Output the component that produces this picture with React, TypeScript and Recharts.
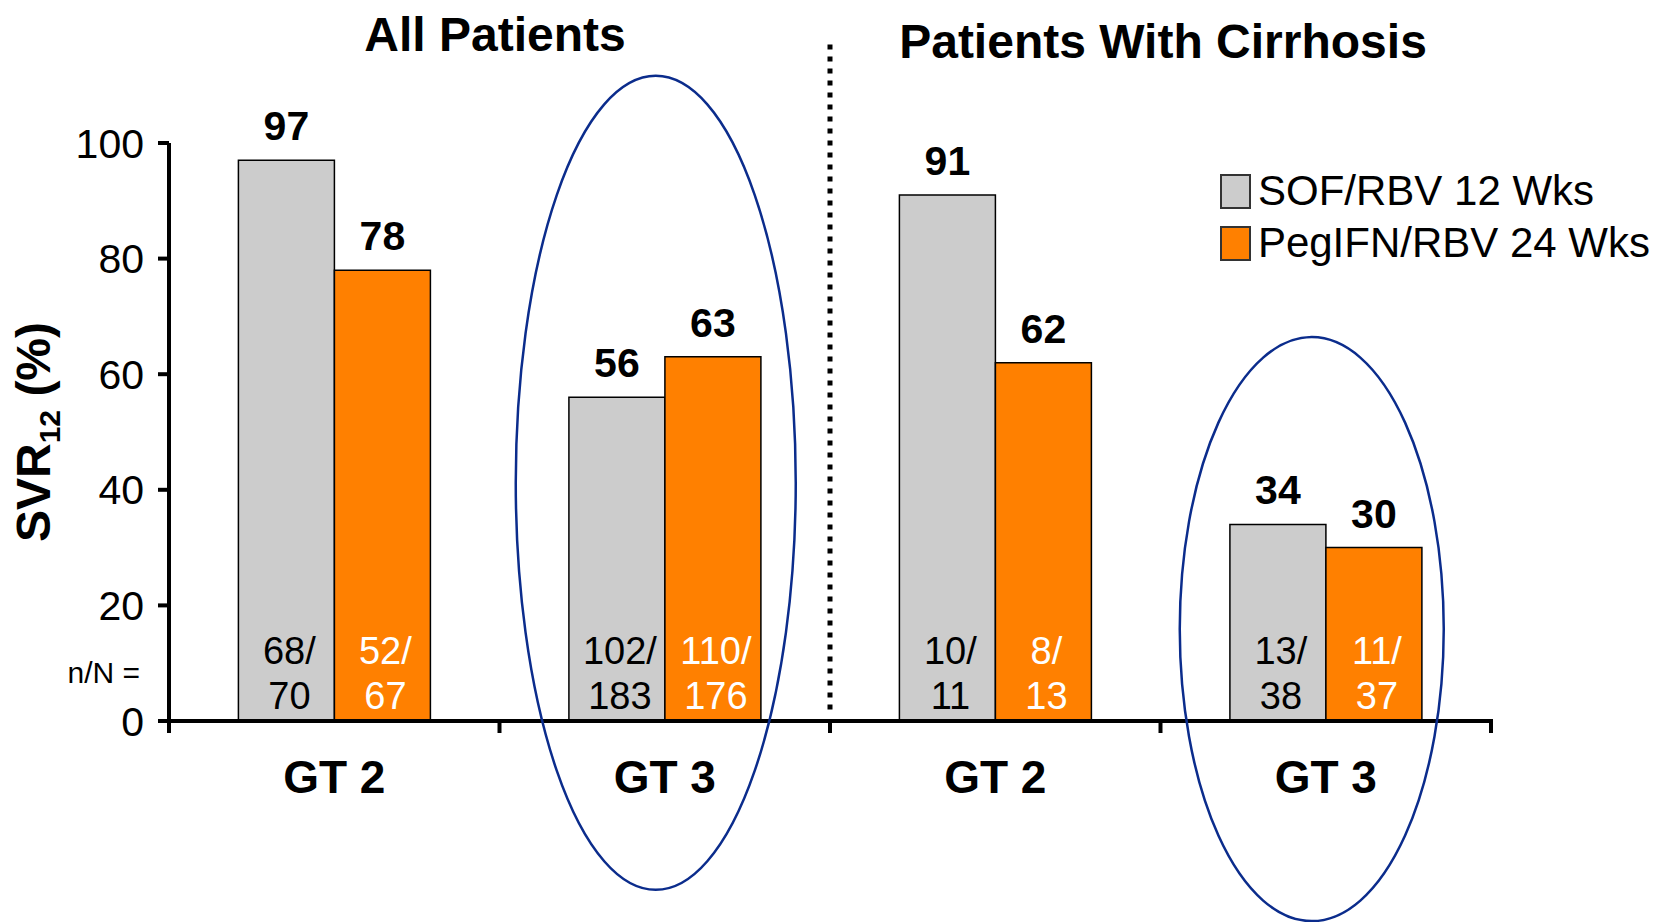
import React from "react";
import {
  BarChart,
  Bar,
  XAxis,
  YAxis,
  LabelList,
  Legend,
  ReferenceLine,
  ReferenceDot,
} from "recharts";

// chart values
const groupIds = ["all-gt2", "all-gt3", "cirr-gt2", "cirr-gt3"];
const categories = ["GT 2", "GT 3", "GT 2", "GT 3"];
const sofRbv = [97, 56, 91, 34];
const pegRbv = [78, 63, 62, 30];
const sofCounts = ["68/70", "102/183", "10/11", "13/38"];
const pegCounts = ["52/67", "110/176", "8/13", "11/37"];
const yTicks = [0, 20, 40, 60, 80, 100];
const seriesNames = ["SOF/RBV 12 Wks", "PegIFN/RBV 24 Wks"];
const panelTitles = ["All Patients", "Patients With Cirrhosis"];

const data = groupIds.map((id, i) => ({
  id,
  sof: sofRbv[i],
  peg: pegRbv[i],
  sofN: sofCounts[i],
  pegN: pegCounts[i],
}));

// highlight ellipses around the GT 3 groups
const highlights = [
  { x: "all-gt3", y: 41.2, dx: -9, rx: 140, ry: 407 },
  { x: "cirr-gt3", y: 15.9, dx: -14, rx: 132, ry: 292 },
];

const FONT = "'Liberation Sans', Arial, sans-serif";
const GRAY = "#CCCCCC";
const ORANGE = "#FF8000";
const NAVY = "#0B2C8C";

// n/N text drawn in two lines at the bottom of each bar
const countLabel = (color: string) => (props: any) => {
  const { x, y, width, height, value } = props;
  const [n, total] = String(value).split("/");
  const cx = x + width / 2 + 3;
  const bottom = y + height;
  return (
    <text fontFamily={FONT} fontSize={38} fill={color} textAnchor="middle">
      <tspan x={cx} y={bottom - 57}>{n}/</tspan>
      <tspan x={cx} y={bottom - 12}>{total}</tspan>
    </text>
  );
};

// x axis: group name at band centre, tick marks at band edges
const GroupTick = (props: any) => {
  const { x, y, payload, index } = props;
  const half = payload && payload.offset ? payload.offset : 165;
  return (
    <g>
      <line x1={x - half} y1={y - 2} x2={x - half} y2={y + 12} stroke="#000" strokeWidth={4} />
      {index === groupIds.length - 1 && (
        <line x1={x + half} y1={y - 2} x2={x + half} y2={y + 12} stroke="#000" strokeWidth={4} />
      )}
      <text x={x} y={y + 72} textAnchor="middle" fontFamily={FONT} fontSize={46} fontWeight="bold" fill="#000">
        {categories[index]}
      </text>
    </g>
  );
};

const YLabel = (props: any) => {
  const vb = props.viewBox;
  const bx = 50;
  const cy = vb.y + vb.height / 2;
  return (
    <text
      x={bx}
      y={cy}
      transform={`rotate(-90, ${bx}, ${cy})`}
      textAnchor="middle"
      fontFamily={FONT}
      fontSize={48}
      fontWeight="bold"
      fill="#000"
    >
      SVR<tspan fontSize={30} dy={10}>12</tspan>
      <tspan dy={-10}> (%)</tspan>
    </text>
  );
};

const LegendBox = (props: any) => {
  const items = [...(props.payload || [])].sort(
    (a: any, b: any) => seriesNames.indexOf(a.value) - seriesNames.indexOf(b.value)
  );
  return (
    <div style={{ fontFamily: FONT, fontSize: 42, color: "#000" }}>
      {items.map((p: any) => (
        <div key={p.value} style={{ display: "flex", alignItems: "center", height: 52, whiteSpace: "nowrap" }}>
          <span
            style={{
              display: "inline-block",
              width: 27,
              height: 31,
              background: p.color,
              border: "2px solid #333",
              marginRight: 7,
            }}
          />
          <span>{p.value}</span>
        </div>
      ))}
    </div>
  );
};

const Ellipse = (dx: number, rx: number, ry: number) => (props: any) => (
  <ellipse cx={props.cx + dx} cy={props.cy} rx={rx} ry={ry} fill="none" stroke={NAVY} strokeWidth={2.5} />
);

export default function App() {
  return (
    <div style={{ position: "absolute", left: 0, top: 0, width: 1656, height: 922, background: "#fff" }}>
      <BarChart
        width={1656}
        height={922}
        data={data}
        margin={{ top: 143, right: 165, bottom: 121, left: 69 }}
        barCategoryGap="21%"
        barGap={0}
      >
        <XAxis
          dataKey="id"
          height={80}
          interval={0}
          tickLine={false}
          tickSize={0}
          tickMargin={0}
          axisLine={{ stroke: "#000", strokeWidth: 4 }}
          tick={<GroupTick />}
        />
        <YAxis
          domain={[0, 100]}
          ticks={yTicks}
          interval={0}
          width={100}
          axisLine={{ stroke: "#000", strokeWidth: 4 }}
          tickLine={{ stroke: "#000", strokeWidth: 4 }}
          tickSize={11}
          tickMargin={14}
          tick={{ fontSize: 41, fill: "#000", fontFamily: FONT }}
          label={<YLabel />}
        />
        <Legend
          layout="vertical"
          align="center"
          verticalAlign="middle"
          wrapperStyle={{ left: 1220, top: 165, width: 430 }}
          content={<LegendBox />}
        />
        <Bar dataKey="sof" name={seriesNames[0]} fill={GRAY} stroke="#000" strokeWidth={1.5} isAnimationActive={false}>
          <LabelList dataKey="sof" position="top" offset={20} style={{ fontSize: 41, fontWeight: "bold", fill: "#000", fontFamily: FONT }} />
          <LabelList dataKey="sofN" content={countLabel("#000")} />
        </Bar>
        <Bar dataKey="peg" name={seriesNames[1]} fill={ORANGE} stroke="#000" strokeWidth={1.5} isAnimationActive={false}>
          <LabelList dataKey="peg" position="top" offset={20} style={{ fontSize: 41, fontWeight: "bold", fill: "#000", fontFamily: FONT }} />
          <LabelList dataKey="pegN" content={countLabel("#fff")} />
        </Bar>
        <ReferenceLine
          segment={[{ x: "all-gt3", y: 2 }, { x: "all-gt3", y: 117.4 }]}
          position="end"
          ifOverflow="visible"
          stroke="#000"
          strokeWidth={5}
          strokeDasharray="5 7"
        />
        {highlights.map((h, i) => (
          <ReferenceDot key={i} x={h.x} y={h.y} ifOverflow="visible" shape={Ellipse(h.dx, h.rx, h.ry)} />
        ))}
      </BarChart>
      <svg width={1656} height={922} style={{ position: "absolute", left: 0, top: 0, pointerEvents: "none" }}>
        <text x={495} y={51} textAnchor="middle" fontFamily={FONT} fontSize={48} fontWeight="bold" fill="#000">
          {panelTitles[0]}
        </text>
        <text x={1163} y={58} textAnchor="middle" fontFamily={FONT} fontSize={48} fontWeight="bold" fill="#000">
          {panelTitles[1]}
        </text>
        <text x={140} y={683} textAnchor="end" fontFamily={FONT} fontSize={30} fill="#000">
          n/N =
        </text>
      </svg>
    </div>
  );
}
